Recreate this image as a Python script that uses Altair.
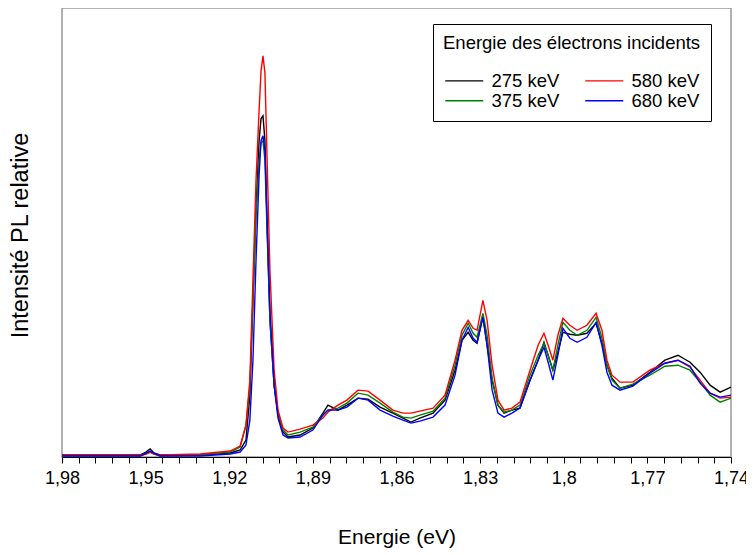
import altair as alt
import pandas as pd

energy = [1.9800, 1.9664, 1.9520, 1.9499, 1.9484, 1.9470, 1.9448, 1.9305, 1.9197, 1.9161,
          1.9140, 1.9126, 1.9115, 1.9104, 1.9093, 1.9086, 1.9079, 1.9072, 1.9065, 1.9054,
          1.9039, 1.9025, 1.9007, 1.8989, 1.8946, 1.8900, 1.8864, 1.8846, 1.8810, 1.8778,
          1.8738, 1.8702, 1.8659, 1.8613, 1.8577, 1.8548, 1.8516, 1.8469, 1.8426, 1.8390,
          1.8365, 1.8343, 1.8325, 1.8311, 1.8290, 1.8275, 1.8257, 1.8236, 1.8214, 1.8186,
          1.8157, 1.8121, 1.8092, 1.8071, 1.8056, 1.8039, 1.8021, 1.8003, 1.7978, 1.7952,
          1.7917, 1.7884, 1.7863, 1.7845, 1.7827, 1.7798, 1.7752, 1.7691, 1.7637, 1.7590,
          1.7547, 1.7511, 1.7475, 1.7439, 1.7400]

i_275 = [2, 2, 2, 5, 8, 4, 2, 2, 4, 7,
         17, 62, 157, 247, 317, 339, 342, 317, 242, 137,
         72, 42, 25, 20, 22, 29, 44, 52, 47, 52,
         59, 58, 50, 44, 39, 35, 39, 44, 57, 87,
         117, 125, 117, 114, 141, 112, 77, 52, 44, 47,
         49, 77, 97, 115, 102, 87, 105, 125, 123, 122,
         124, 134, 114, 92, 79, 69, 72, 85, 97, 102,
         95, 85, 72, 65, 70]

i_375 = [1, 1, 1, 3, 5, 3, 1, 2, 5, 10,
         32, 72, 157, 242, 297, 315, 317, 297, 232, 137,
         72, 44, 27, 22, 25, 30, 42, 47, 49, 54,
         64, 62, 54, 45, 40, 39, 42, 46, 59, 92,
         122, 134, 124, 120, 144, 122, 79, 52, 45, 47,
         52, 82, 102, 114, 102, 87, 112, 135, 127, 122,
         127, 140, 119, 92, 77, 69, 73, 82, 91, 92,
         87, 75, 62, 55, 59]

i_580 = [2, 2, 2, 3, 5, 3, 2, 3, 6, 11,
         32, 77, 177, 277, 347, 387, 402, 385, 307, 187,
         87, 47, 29, 25, 28, 32, 39, 45, 52, 57,
         67, 66, 57, 47, 44, 44, 46, 49, 62, 97,
         127, 137, 129, 127, 157, 137, 92, 57, 47, 49,
         55, 87, 112, 124, 112, 97, 122, 139, 132, 127,
         132, 144, 127, 97, 82, 75, 75, 87, 94, 97,
         90, 77, 64, 59, 60]

i_680 = [1, 1, 1, 4, 6, 4, 1, 1, 3, 5,
         12, 37, 97, 197, 282, 317, 322, 307, 242, 147,
         72, 39, 22, 19, 20, 27, 42, 47, 47, 50,
         59, 57, 47, 41, 37, 34, 36, 40, 52, 82,
         117, 130, 119, 115, 140, 112, 67, 44, 40, 44,
         49, 77, 97, 110, 95, 77, 102, 129, 119, 115,
         120, 135, 112, 85, 72, 67, 71, 84, 94, 97,
         91, 74, 64, 60, 62]

series_names = ["275 keV", "375 keV", "580 keV", "680 keV"]
series_colors = ["#000000", "#008000", "#ff0000", "#0000ff"]
series_values = [i_275, i_375, i_580, i_680]
draw_order = {"680 keV": 0, "375 keV": 1, "580 keV": 2, "275 keV": 3}

tick_values = [round(1.98 - k * 0.006, 3) for k in range(41)]

rows = []
for name, vals in zip(series_names, series_values):
    for e, v in zip(energy, vals):
        rows.append({"E": e, "I": v, "s": name, "o": draw_order[name]})
df = pd.DataFrame(rows)

FONT = "Liberation Sans"

chart = alt.Chart(df).mark_line(strokeWidth=1.4, interpolate="linear").encode(
    x=alt.X("E:Q",
            scale=alt.Scale(domain=[1.74, 1.98], reverse=True, nice=False, zero=False),
            axis=alt.Axis(values=tick_values, grid=False, domainColor="#000000",
                          tickColor="#000000", tickSize=6, domainWidth=1.2,
                          labelExpr="round((1.98 - datum.value) / 0.006) % 5 == 0 ? replace(format(datum.value, '.2~f'), '.', ',') : ''",
                          labelFont=FONT, labelFontSize=18, labelColor="#000000",
                          labelPadding=6, labelFlush=False, labelOverlap=False,
                          title="Energie (eV)", titleFont=FONT, titleFontSize=21,
                          titleFontWeight="normal", titleColor="#000000",
                          titleY=80, titleBaseline="middle")),
    y=alt.Y("I:Q", scale=alt.Scale(domain=[0, 450], nice=False),
            axis=alt.Axis(labels=False, ticks=False, grid=False, domain=False,
                          title="Intensité PL relative", titleFont=FONT, titleFontSize=23.5,
                          titleFontWeight="normal", titleColor="#000000",
                          titleX=-42, titleY=227, titleAngle=-90,
                          titleAlign="center", titleBaseline="middle")),
    color=alt.Color("s:N",
                    scale=alt.Scale(domain=series_names, range=series_colors),
                    legend=alt.Legend(title="Energie des électrons incidents", orient="none",
                                      legendX=371, legendY=16, columns=2,
                                      symbolType="M-1,0H4.43", symbolSize=196,
                                      symbolStrokeWidth=1.3,
                                      strokeColor="#000000", fillColor="#ffffff", padding=10,
                                      titleFont=FONT, titleFontSize=18.5, titleFontWeight="normal",
                                      titleColor="#000000", titlePadding=19, titleLimit=400,
                                      labelFont=FONT, labelFontSize=18.5, labelColor="#000000",
                                      columnPadding=22, rowPadding=1, labelOffset=30)),
    order=alt.Order("o:Q")
).properties(
    width=669, height=449,
    padding={"left": 54, "top": 0, "right": 15, "bottom": 98},
    autosize=alt.AutoSizeParams(type="none")
).configure_view(stroke="#999999", strokeWidth=1.5)

chart.save("out.html", embed_options={"renderer": "svg", "actions": False})
